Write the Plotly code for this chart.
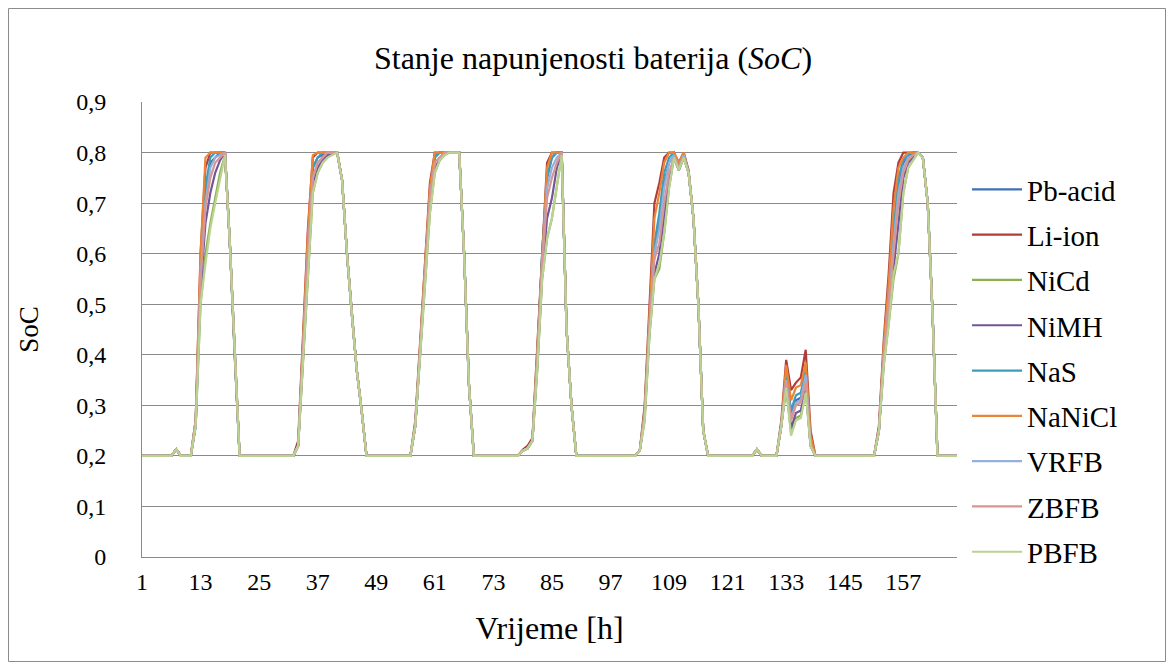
import plotly.graph_objects as go

hours = list(range(1, 169))
series_names = ["Pb-acid", "Li-ion", "NiCd", "NiMH", "NaS", "NaNiCl", "VRFB", "ZBFB", "PBFB"]
series_colors = ["#4170B5", "#B13C3A", "#8DB04F", "#70579B", "#3C9CBC", "#EB8535", "#94B1DA", "#D99594", "#BAD292"]
y_tick_vals = [0, 0.1, 0.2, 0.3, 0.4, 0.5, 0.6, 0.7, 0.8, 0.9]
y_tick_text = ["0", "0,1", "0,2", "0,3", "0,4", "0,5", "0,6", "0,7", "0,8", "0,9"]
x_tick_vals = [1, 13, 25, 37, 49, 61, 73, 85, 97, 109, 121, 133, 145, 157]

pb_acid = [
    0.2, 0.2, 0.2, 0.2, 0.2, 0.2, 0.2, 0.213, 0.2, 0.2, 0.2,
    0.26, 0.56, 0.72, 0.78, 0.79, 0.8, 0.8, 0.62, 0.4, 0.2,
    0.2, 0.2, 0.2, 0.2, 0.2, 0.2, 0.2, 0.2, 0.2, 0.2, 0.2,
    0.22, 0.42, 0.62, 0.77, 0.79, 0.795, 0.8, 0.8, 0.8, 0.745, 0.6, 0.48, 0.37, 0.29, 0.2,
    0.2, 0.2, 0.2, 0.2, 0.2, 0.2, 0.2, 0.2, 0.2,
    0.26, 0.42, 0.57, 0.72, 0.79, 0.8, 0.8, 0.8, 0.8, 0.8, 0.6, 0.34, 0.2,
    0.2, 0.2, 0.2, 0.2, 0.2, 0.2, 0.2, 0.2, 0.2,
    0.21, 0.215, 0.23, 0.4, 0.6, 0.75, 0.79, 0.8, 0.8, 0.45, 0.3, 0.2,
    0.2, 0.2, 0.2, 0.2, 0.2, 0.2, 0.2, 0.2, 0.2, 0.2, 0.2, 0.2,
    0.21, 0.28, 0.46, 0.6, 0.66, 0.74, 0.78, 0.795, 0.77, 0.795, 0.76, 0.67, 0.5, 0.25, 0.2,
    0.2, 0.2, 0.2, 0.2, 0.2, 0.2, 0.2, 0.2, 0.2,
    0.213, 0.2, 0.2, 0.2, 0.2, 0.26, 0.36, 0.28, 0.31, 0.315, 0.36, 0.22, 0.2,
    0.2, 0.2, 0.2, 0.2, 0.2, 0.2, 0.2, 0.2, 0.2, 0.2, 0.2, 0.2,
    0.25, 0.41, 0.51, 0.63, 0.73, 0.78, 0.79, 0.8, 0.8, 0.79, 0.7, 0.48, 0.2, 0.2, 0.2, 0.2, 0.2,
]
li_ion = [
    0.2, 0.2, 0.2, 0.2, 0.2, 0.2, 0.2, 0.213, 0.2, 0.2, 0.2,
    0.27, 0.6, 0.77, 0.8, 0.8, 0.8, 0.8, 0.62, 0.4, 0.2,
    0.2, 0.2, 0.2, 0.2, 0.2, 0.2, 0.2, 0.2, 0.2, 0.2, 0.2,
    0.23, 0.44, 0.65, 0.79, 0.8, 0.8, 0.8, 0.8, 0.8, 0.745, 0.6, 0.48, 0.37, 0.29, 0.2,
    0.2, 0.2, 0.2, 0.2, 0.2, 0.2, 0.2, 0.2, 0.2,
    0.27, 0.43, 0.59, 0.74, 0.8, 0.8, 0.8, 0.8, 0.8, 0.8, 0.6, 0.34, 0.2,
    0.2, 0.2, 0.2, 0.2, 0.2, 0.2, 0.2, 0.2, 0.2,
    0.212, 0.22, 0.235, 0.42, 0.62, 0.78, 0.8, 0.8, 0.8, 0.45, 0.3, 0.2,
    0.2, 0.2, 0.2, 0.2, 0.2, 0.2, 0.2, 0.2, 0.2, 0.2, 0.2, 0.2,
    0.21, 0.3, 0.5, 0.7, 0.74, 0.79, 0.8, 0.8, 0.78, 0.8, 0.765, 0.67, 0.5, 0.25, 0.2,
    0.2, 0.2, 0.2, 0.2, 0.2, 0.2, 0.2, 0.2, 0.2,
    0.213, 0.2, 0.2, 0.2, 0.2, 0.27, 0.39, 0.33, 0.345, 0.355, 0.41, 0.25, 0.2,
    0.2, 0.2, 0.2, 0.2, 0.2, 0.2, 0.2, 0.2, 0.2, 0.2, 0.2, 0.2,
    0.26, 0.43, 0.56, 0.72, 0.78, 0.8, 0.8, 0.8, 0.8, 0.79, 0.7, 0.48, 0.2, 0.2, 0.2, 0.2, 0.2,
]
nicd = [
    0.2, 0.2, 0.2, 0.2, 0.2, 0.2, 0.2, 0.213, 0.2, 0.2, 0.2,
    0.26, 0.5, 0.6, 0.66, 0.71, 0.76, 0.795, 0.62, 0.4, 0.2,
    0.2, 0.2, 0.2, 0.2, 0.2, 0.2, 0.2, 0.2, 0.2, 0.2, 0.2,
    0.22, 0.39, 0.57, 0.72, 0.76, 0.78, 0.79, 0.8, 0.8, 0.745, 0.6, 0.48, 0.37, 0.29, 0.2,
    0.2, 0.2, 0.2, 0.2, 0.2, 0.2, 0.2, 0.2, 0.2,
    0.26, 0.4, 0.54, 0.68, 0.76, 0.785, 0.795, 0.8, 0.8, 0.8, 0.6, 0.34, 0.2,
    0.2, 0.2, 0.2, 0.2, 0.2, 0.2, 0.2, 0.2, 0.2,
    0.21, 0.215, 0.23, 0.37, 0.55, 0.63, 0.67, 0.73, 0.795, 0.45, 0.3, 0.2,
    0.2, 0.2, 0.2, 0.2, 0.2, 0.2, 0.2, 0.2, 0.2, 0.2, 0.2, 0.2,
    0.21, 0.27, 0.44, 0.55, 0.57, 0.64, 0.73, 0.79, 0.765, 0.79, 0.76, 0.67, 0.5, 0.25, 0.2,
    0.2, 0.2, 0.2, 0.2, 0.2, 0.2, 0.2, 0.2, 0.2,
    0.213, 0.2, 0.2, 0.2, 0.2, 0.26, 0.335, 0.245, 0.275, 0.28, 0.33, 0.22, 0.2,
    0.2, 0.2, 0.2, 0.2, 0.2, 0.2, 0.2, 0.2, 0.2, 0.2, 0.2, 0.2,
    0.25, 0.38, 0.46, 0.55, 0.6, 0.72, 0.77, 0.785, 0.8, 0.79, 0.7, 0.48, 0.2, 0.2, 0.2, 0.2, 0.2,
]
nimh = [
    0.2, 0.2, 0.2, 0.2, 0.2, 0.2, 0.2, 0.213, 0.2, 0.2, 0.2,
    0.26, 0.53, 0.66, 0.72, 0.76, 0.785, 0.8, 0.62, 0.4, 0.2,
    0.2, 0.2, 0.2, 0.2, 0.2, 0.2, 0.2, 0.2, 0.2, 0.2, 0.2,
    0.22, 0.4, 0.58, 0.74, 0.77, 0.785, 0.795, 0.8, 0.8, 0.745, 0.6, 0.48, 0.37, 0.29, 0.2,
    0.2, 0.2, 0.2, 0.2, 0.2, 0.2, 0.2, 0.2, 0.2,
    0.26, 0.41, 0.55, 0.7, 0.77, 0.785, 0.8, 0.8, 0.8, 0.8, 0.6, 0.34, 0.2,
    0.2, 0.2, 0.2, 0.2, 0.2, 0.2, 0.2, 0.2, 0.2,
    0.21, 0.215, 0.23, 0.38, 0.56, 0.67, 0.71, 0.77, 0.8, 0.45, 0.3, 0.2,
    0.2, 0.2, 0.2, 0.2, 0.2, 0.2, 0.2, 0.2, 0.2, 0.2, 0.2, 0.2,
    0.21, 0.28, 0.45, 0.56, 0.6, 0.67, 0.75, 0.79, 0.765, 0.79, 0.76, 0.67, 0.5, 0.25, 0.2,
    0.2, 0.2, 0.2, 0.2, 0.2, 0.2, 0.2, 0.2, 0.2,
    0.213, 0.2, 0.2, 0.2, 0.2, 0.26, 0.34, 0.255, 0.285, 0.29, 0.335, 0.22, 0.2,
    0.2, 0.2, 0.2, 0.2, 0.2, 0.2, 0.2, 0.2, 0.2, 0.2, 0.2, 0.2,
    0.25, 0.39, 0.48, 0.57, 0.66, 0.75, 0.78, 0.79, 0.8, 0.79, 0.7, 0.48, 0.2, 0.2, 0.2, 0.2, 0.2,
]
nas = [
    0.2, 0.2, 0.2, 0.2, 0.2, 0.2, 0.2, 0.213, 0.2, 0.2, 0.2,
    0.27, 0.57, 0.73, 0.79, 0.8, 0.8, 0.8, 0.62, 0.4, 0.2,
    0.2, 0.2, 0.2, 0.2, 0.2, 0.2, 0.2, 0.2, 0.2, 0.2, 0.2,
    0.22, 0.42, 0.62, 0.77, 0.79, 0.8, 0.8, 0.8, 0.8, 0.745, 0.6, 0.48, 0.37, 0.29, 0.2,
    0.2, 0.2, 0.2, 0.2, 0.2, 0.2, 0.2, 0.2, 0.2,
    0.26, 0.42, 0.57, 0.72, 0.79, 0.8, 0.8, 0.8, 0.8, 0.8, 0.6, 0.34, 0.2,
    0.2, 0.2, 0.2, 0.2, 0.2, 0.2, 0.2, 0.2, 0.2,
    0.21, 0.215, 0.23, 0.4, 0.6, 0.75, 0.79, 0.8, 0.8, 0.45, 0.3, 0.2,
    0.2, 0.2, 0.2, 0.2, 0.2, 0.2, 0.2, 0.2, 0.2, 0.2, 0.2, 0.2,
    0.21, 0.29, 0.47, 0.62, 0.68, 0.76, 0.79, 0.8, 0.775, 0.8, 0.76, 0.67, 0.5, 0.25, 0.2,
    0.2, 0.2, 0.2, 0.2, 0.2, 0.2, 0.2, 0.2, 0.2,
    0.213, 0.2, 0.2, 0.2, 0.2, 0.26, 0.36, 0.29, 0.32, 0.325, 0.37, 0.23, 0.2,
    0.2, 0.2, 0.2, 0.2, 0.2, 0.2, 0.2, 0.2, 0.2, 0.2, 0.2, 0.2,
    0.25, 0.41, 0.52, 0.65, 0.75, 0.785, 0.795, 0.8, 0.8, 0.79, 0.7, 0.48, 0.2, 0.2, 0.2, 0.2, 0.2,
]
nanicl = [
    0.2, 0.2, 0.2, 0.2, 0.2, 0.2, 0.2, 0.213, 0.2, 0.2, 0.2,
    0.27, 0.6, 0.79, 0.8, 0.8, 0.8, 0.8, 0.62, 0.4, 0.2,
    0.2, 0.2, 0.2, 0.2, 0.2, 0.2, 0.2, 0.2, 0.2, 0.2, 0.2,
    0.22, 0.43, 0.64, 0.795, 0.8, 0.8, 0.8, 0.8, 0.8, 0.745, 0.6, 0.48, 0.37, 0.29, 0.2,
    0.2, 0.2, 0.2, 0.2, 0.2, 0.2, 0.2, 0.2, 0.2,
    0.26, 0.43, 0.58, 0.73, 0.8, 0.8, 0.8, 0.8, 0.8, 0.8, 0.6, 0.34, 0.2,
    0.2, 0.2, 0.2, 0.2, 0.2, 0.2, 0.2, 0.2, 0.2,
    0.21, 0.215, 0.23, 0.41, 0.61, 0.77, 0.8, 0.8, 0.8, 0.45, 0.3, 0.2,
    0.2, 0.2, 0.2, 0.2, 0.2, 0.2, 0.2, 0.2, 0.2, 0.2, 0.2, 0.2,
    0.21, 0.29, 0.48, 0.67, 0.72, 0.78, 0.8, 0.8, 0.78, 0.8, 0.76, 0.67, 0.5, 0.25, 0.2,
    0.2, 0.2, 0.2, 0.2, 0.2, 0.2, 0.2, 0.2, 0.2,
    0.213, 0.2, 0.2, 0.2, 0.2, 0.26, 0.38, 0.31, 0.335, 0.34, 0.385, 0.24, 0.2,
    0.2, 0.2, 0.2, 0.2, 0.2, 0.2, 0.2, 0.2, 0.2, 0.2, 0.2, 0.2,
    0.25, 0.42, 0.54, 0.69, 0.77, 0.79, 0.8, 0.8, 0.8, 0.79, 0.7, 0.48, 0.2, 0.2, 0.2, 0.2, 0.2,
]
vrfb = [
    0.2, 0.2, 0.2, 0.2, 0.2, 0.2, 0.2, 0.213, 0.2, 0.2, 0.2,
    0.26, 0.55, 0.7, 0.77, 0.79, 0.795, 0.8, 0.62, 0.4, 0.2,
    0.2, 0.2, 0.2, 0.2, 0.2, 0.2, 0.2, 0.2, 0.2, 0.2, 0.2,
    0.22, 0.41, 0.6, 0.75, 0.78, 0.79, 0.8, 0.8, 0.8, 0.745, 0.6, 0.48, 0.37, 0.29, 0.2,
    0.2, 0.2, 0.2, 0.2, 0.2, 0.2, 0.2, 0.2, 0.2,
    0.26, 0.41, 0.56, 0.71, 0.78, 0.79, 0.8, 0.8, 0.8, 0.8, 0.6, 0.34, 0.2,
    0.2, 0.2, 0.2, 0.2, 0.2, 0.2, 0.2, 0.2, 0.2,
    0.21, 0.215, 0.23, 0.39, 0.58, 0.73, 0.77, 0.79, 0.8, 0.45, 0.3, 0.2,
    0.2, 0.2, 0.2, 0.2, 0.2, 0.2, 0.2, 0.2, 0.2, 0.2, 0.2, 0.2,
    0.21, 0.28, 0.46, 0.6, 0.65, 0.73, 0.78, 0.795, 0.77, 0.795, 0.76, 0.67, 0.5, 0.25, 0.2,
    0.2, 0.2, 0.2, 0.2, 0.2, 0.2, 0.2, 0.2, 0.2,
    0.213, 0.2, 0.2, 0.2, 0.2, 0.26, 0.35, 0.275, 0.305, 0.31, 0.36, 0.22, 0.2,
    0.2, 0.2, 0.2, 0.2, 0.2, 0.2, 0.2, 0.2, 0.2, 0.2, 0.2, 0.2,
    0.25, 0.4, 0.5, 0.62, 0.72, 0.77, 0.79, 0.795, 0.8, 0.79, 0.7, 0.48, 0.2, 0.2, 0.2, 0.2, 0.2,
]
zbfb = [
    0.2, 0.2, 0.2, 0.2, 0.2, 0.2, 0.2, 0.213, 0.2, 0.2, 0.2,
    0.27, 0.55, 0.69, 0.75, 0.78, 0.79, 0.8, 0.62, 0.4, 0.2,
    0.2, 0.2, 0.2, 0.2, 0.2, 0.2, 0.2, 0.2, 0.2, 0.2, 0.2,
    0.22, 0.41, 0.6, 0.75, 0.78, 0.79, 0.8, 0.8, 0.8, 0.745, 0.6, 0.48, 0.37, 0.29, 0.2,
    0.2, 0.2, 0.2, 0.2, 0.2, 0.2, 0.2, 0.2, 0.2,
    0.26, 0.42, 0.56, 0.71, 0.78, 0.79, 0.8, 0.8, 0.8, 0.8, 0.6, 0.34, 0.2,
    0.2, 0.2, 0.2, 0.2, 0.2, 0.2, 0.2, 0.2, 0.2,
    0.21, 0.215, 0.23, 0.39, 0.58, 0.71, 0.75, 0.78, 0.8, 0.45, 0.3, 0.2,
    0.2, 0.2, 0.2, 0.2, 0.2, 0.2, 0.2, 0.2, 0.2, 0.2, 0.2, 0.2,
    0.21, 0.28, 0.46, 0.59, 0.62, 0.7, 0.76, 0.79, 0.77, 0.79, 0.76, 0.67, 0.5, 0.25, 0.2,
    0.2, 0.2, 0.2, 0.2, 0.2, 0.2, 0.2, 0.2, 0.2,
    0.213, 0.2, 0.2, 0.2, 0.2, 0.26, 0.345, 0.27, 0.3, 0.305, 0.345, 0.22, 0.2,
    0.2, 0.2, 0.2, 0.2, 0.2, 0.2, 0.2, 0.2, 0.2, 0.2, 0.2, 0.2,
    0.25, 0.4, 0.5, 0.6, 0.7, 0.76, 0.785, 0.795, 0.8, 0.79, 0.7, 0.48, 0.2, 0.2, 0.2, 0.2, 0.2,
]
pbfb = [
    0.2, 0.2, 0.2, 0.2, 0.2, 0.2, 0.2, 0.213, 0.2, 0.2, 0.2,
    0.26, 0.5, 0.58, 0.65, 0.7, 0.75, 0.795, 0.62, 0.4, 0.2,
    0.2, 0.2, 0.2, 0.2, 0.2, 0.2, 0.2, 0.2, 0.2, 0.2, 0.2,
    0.22, 0.39, 0.57, 0.72, 0.76, 0.78, 0.79, 0.795, 0.8, 0.745, 0.6, 0.48, 0.37, 0.29, 0.2,
    0.2, 0.2, 0.2, 0.2, 0.2, 0.2, 0.2, 0.2, 0.2,
    0.26, 0.4, 0.54, 0.68, 0.76, 0.785, 0.795, 0.8, 0.8, 0.8, 0.6, 0.34, 0.2,
    0.2, 0.2, 0.2, 0.2, 0.2, 0.2, 0.2, 0.2, 0.2,
    0.21, 0.215, 0.23, 0.37, 0.55, 0.63, 0.67, 0.73, 0.795, 0.45, 0.3, 0.2,
    0.2, 0.2, 0.2, 0.2, 0.2, 0.2, 0.2, 0.2, 0.2, 0.2, 0.2, 0.2,
    0.21, 0.27, 0.44, 0.55, 0.58, 0.64, 0.73, 0.79, 0.765, 0.79, 0.76, 0.67, 0.5, 0.25, 0.2,
    0.2, 0.2, 0.2, 0.2, 0.2, 0.2, 0.2, 0.2, 0.2,
    0.213, 0.2, 0.2, 0.2, 0.2, 0.26, 0.335, 0.24, 0.27, 0.275, 0.325, 0.22, 0.2,
    0.2, 0.2, 0.2, 0.2, 0.2, 0.2, 0.2, 0.2, 0.2, 0.2, 0.2, 0.2,
    0.25, 0.38, 0.46, 0.56, 0.6, 0.72, 0.77, 0.785, 0.8, 0.79, 0.7, 0.48, 0.2, 0.2, 0.2, 0.2, 0.2,
]

all_series = [pb_acid, li_ion, nicd, nimh, nas, nanicl, vrfb, zbfb, pbfb]
for s in all_series:
    assert len(s) == len(hours), len(s)

FONT = "Liberation Serif"
GRID = "#8A8A8A"

W, H = 1158, 654
ML, MR, MT, MB = 134, 209, 94, 105
PW, PH = W - ML - MR, H - MT - MB

fig = go.Figure()
for name, color, vals in zip(series_names, series_colors, all_series):
    fig.add_trace(go.Scatter(
        x=hours, y=vals, mode="lines", name=name, legendgroup=name,
        line=dict(color=color, width=2.2),
    ))

# chart-area border (whole figure)
fig.add_shape(
    type="rect", xref="paper", yref="paper",
    x0=(0.5 - ML) / PW, x1=(W - 0.5 - ML) / PW,
    y0=-(MB - 0.5) / PH, y1=1 + (MT - 0.5) / PH,
    line=dict(color="#8C8C8C", width=1), fillcolor="rgba(0,0,0,0)", layer="below",
)

fig.update_layout(
    width=W, height=H,
    margin=dict(l=ML, r=MR, t=MT, b=MB, pad=0),
    paper_bgcolor="white", plot_bgcolor="white",
    font=dict(family=FONT, color="#000000", size=24),
    title=dict(text="Stanje napunjenosti baterija (<i>SoC</i>)", x=(593 - 8) / W, xref="container",
               y=1 - 50 / H, yanchor="middle", xanchor="center",
               font=dict(family=FONT, size=32, color="#000000")),
    showlegend=True,
    legend=dict(x=(967 - 8 - ML) / PW, xanchor="left", y=1 + (MT - 156) / PH, yanchor="top",
                font=dict(family=FONT, size=29, color="#000000"),
                tracegroupgap=4.6, bgcolor="rgba(0,0,0,0)", itemwidth=50),
    xaxis=dict(range=[1, 168], tickmode="array", tickvals=x_tick_vals,
               ticktext=[str(v) for v in x_tick_vals],
               showgrid=False, zeroline=False, showline=True, linecolor=GRID, linewidth=1,
               ticks="", ticklabelstandoff=3,
               title=dict(text="Vrijeme [h]", font=dict(family=FONT, size=32), standoff=22),
               tickfont=dict(family=FONT, size=24)),
    yaxis=dict(range=[0, 0.9], tickmode="array", tickvals=y_tick_vals, ticktext=y_tick_text,
               showgrid=True, gridcolor=GRID, gridwidth=1, zeroline=False,
               showline=True, linecolor=GRID, linewidth=1, ticks="",
               ticklabelstandoff=30,
               title=dict(text="SoC", font=dict(family=FONT, size=27), standoff=29),
               tickfont=dict(family=FONT, size=24)),
)

fig.write_html("out.html")
